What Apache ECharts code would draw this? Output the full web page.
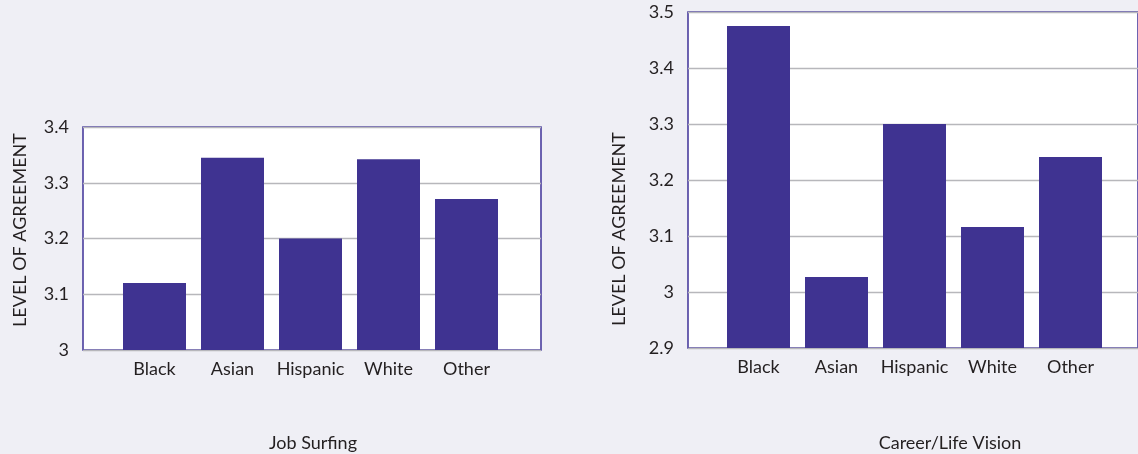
<!DOCTYPE html>
<html>
<head>
<meta charset="utf-8">
<script src="https://cdn.jsdelivr.net/npm/echarts@6/dist/echarts.min.js"></script>
<style>
  html, body { margin: 0; padding: 0; background: #efeff5; }
  #chart { width: 1138px; height: 454px; }
</style>
</head>
<body>
<div id="chart"></div>
<script>
// Groups shown on both panels
const categories = ['Black', 'Asian', 'Hispanic', 'White', 'Other'];

// Panel 1: Job Surfing
const jobSurfingTitle = 'Job Surfing';
const jobSurfingValues = [3.12, 3.345, 3.2, 3.342, 3.271];
const jobSurfingAxis = { min: 3, max: 3.4, interval: 0.1 };

// Panel 2: Career/Life Vision
const careerTitle = 'Career/Life Vision';
const careerValues = [3.475, 3.027, 3.3, 3.116, 3.241];
const careerAxis = { min: 2.9, max: 3.5, interval: 0.1 };

const yAxisName = 'LEVEL OF AGREEMENT';

const FONT = 'Lato, "Open Sans", sans-serif';
const TEXT = '#231f20';
const BAR = '#3f3391';
const FRAME = '#4a3e9e';
const GRIDLINE = '#b7b7bb';

const chart = echarts.init(document.getElementById('chart'));

function frameYAxis(gridIndex, ax) {
  return {
    type: 'value', gridIndex, min: ax.min, max: ax.max, interval: ax.interval,
    axisLine: { show: false }, axisTick: { show: false },
    axisLabel: { color: TEXT, fontFamily: FONT, fontSize: 18, margin: 14 },
    splitLine: { show: true, lineStyle: { color: GRIDLINE, width: 1.3 } }
  };
}
function barYAxis(gridIndex, ax) {
  return {
    type: 'value', gridIndex, min: ax.min, max: ax.max, interval: ax.interval,
    show: false, splitLine: { show: false }
  };
}
function hiddenX(gridIndex) {
  return { type: 'category', gridIndex, data: categories, show: false };
}
function barX(gridIndex) {
  return {
    type: 'category', gridIndex, data: categories,
    axisLine: { show: false }, axisTick: { show: false },
    axisLabel: { color: TEXT, fontFamily: FONT, fontSize: 18, margin: 10, interval: 0 }
  };
}
function barSeries(axisIndex, values) {
  return {
    type: 'bar', xAxisIndex: axisIndex, yAxisIndex: axisIndex,
    data: values, barWidth: 63,
    itemStyle: { color: BAR }
  };
}

function rotatedName(x, y) {
  return { type: 'text', x, y, rotation: Math.PI / 2,
    style: { text: yAxisName, fill: TEXT, font: '18px ' + FONT,
             textAlign: 'center', textVerticalAlign: 'middle' } };
}
function panelTitle(x, y, text) {
  return { type: 'text', x, y,
    style: { text, fill: TEXT, font: '18px ' + FONT,
             textAlign: 'center', textVerticalAlign: 'middle' } };
}

const option = {
  backgroundColor: '#efeff5',
  animation: false,
  grid: [
    // framed plot areas
    { left: 83, top: 127, width: 458, height: 223, show: true,
      backgroundColor: '#ffffff', borderColor: FRAME, borderWidth: 1.6 },
    { left: 688, top: 12, right: -6, height: 336, show: true,
      backgroundColor: '#ffffff', borderColor: FRAME, borderWidth: 1.6 },
    // bar bands inside each frame
    { left: 115.5, top: 127, width: 390, height: 223 },
    { left: 719.5, top: 12, width: 390, height: 336 }
  ],
  xAxis: [hiddenX(0), hiddenX(1), barX(2), barX(3)],
  yAxis: [
    frameYAxis(0, jobSurfingAxis), frameYAxis(1, careerAxis),
    barYAxis(2, jobSurfingAxis), barYAxis(3, careerAxis)
  ],
  series: [barSeries(2, jobSurfingValues), barSeries(3, careerValues)],
  graphic: [
    rotatedName(20, 230),
    rotatedName(619, 229),
    panelTitle(313, 443, jobSurfingTitle),
    panelTitle(950, 443, careerTitle)
  ]
};

chart.setOption(option);
</script>
</body>
</html>
